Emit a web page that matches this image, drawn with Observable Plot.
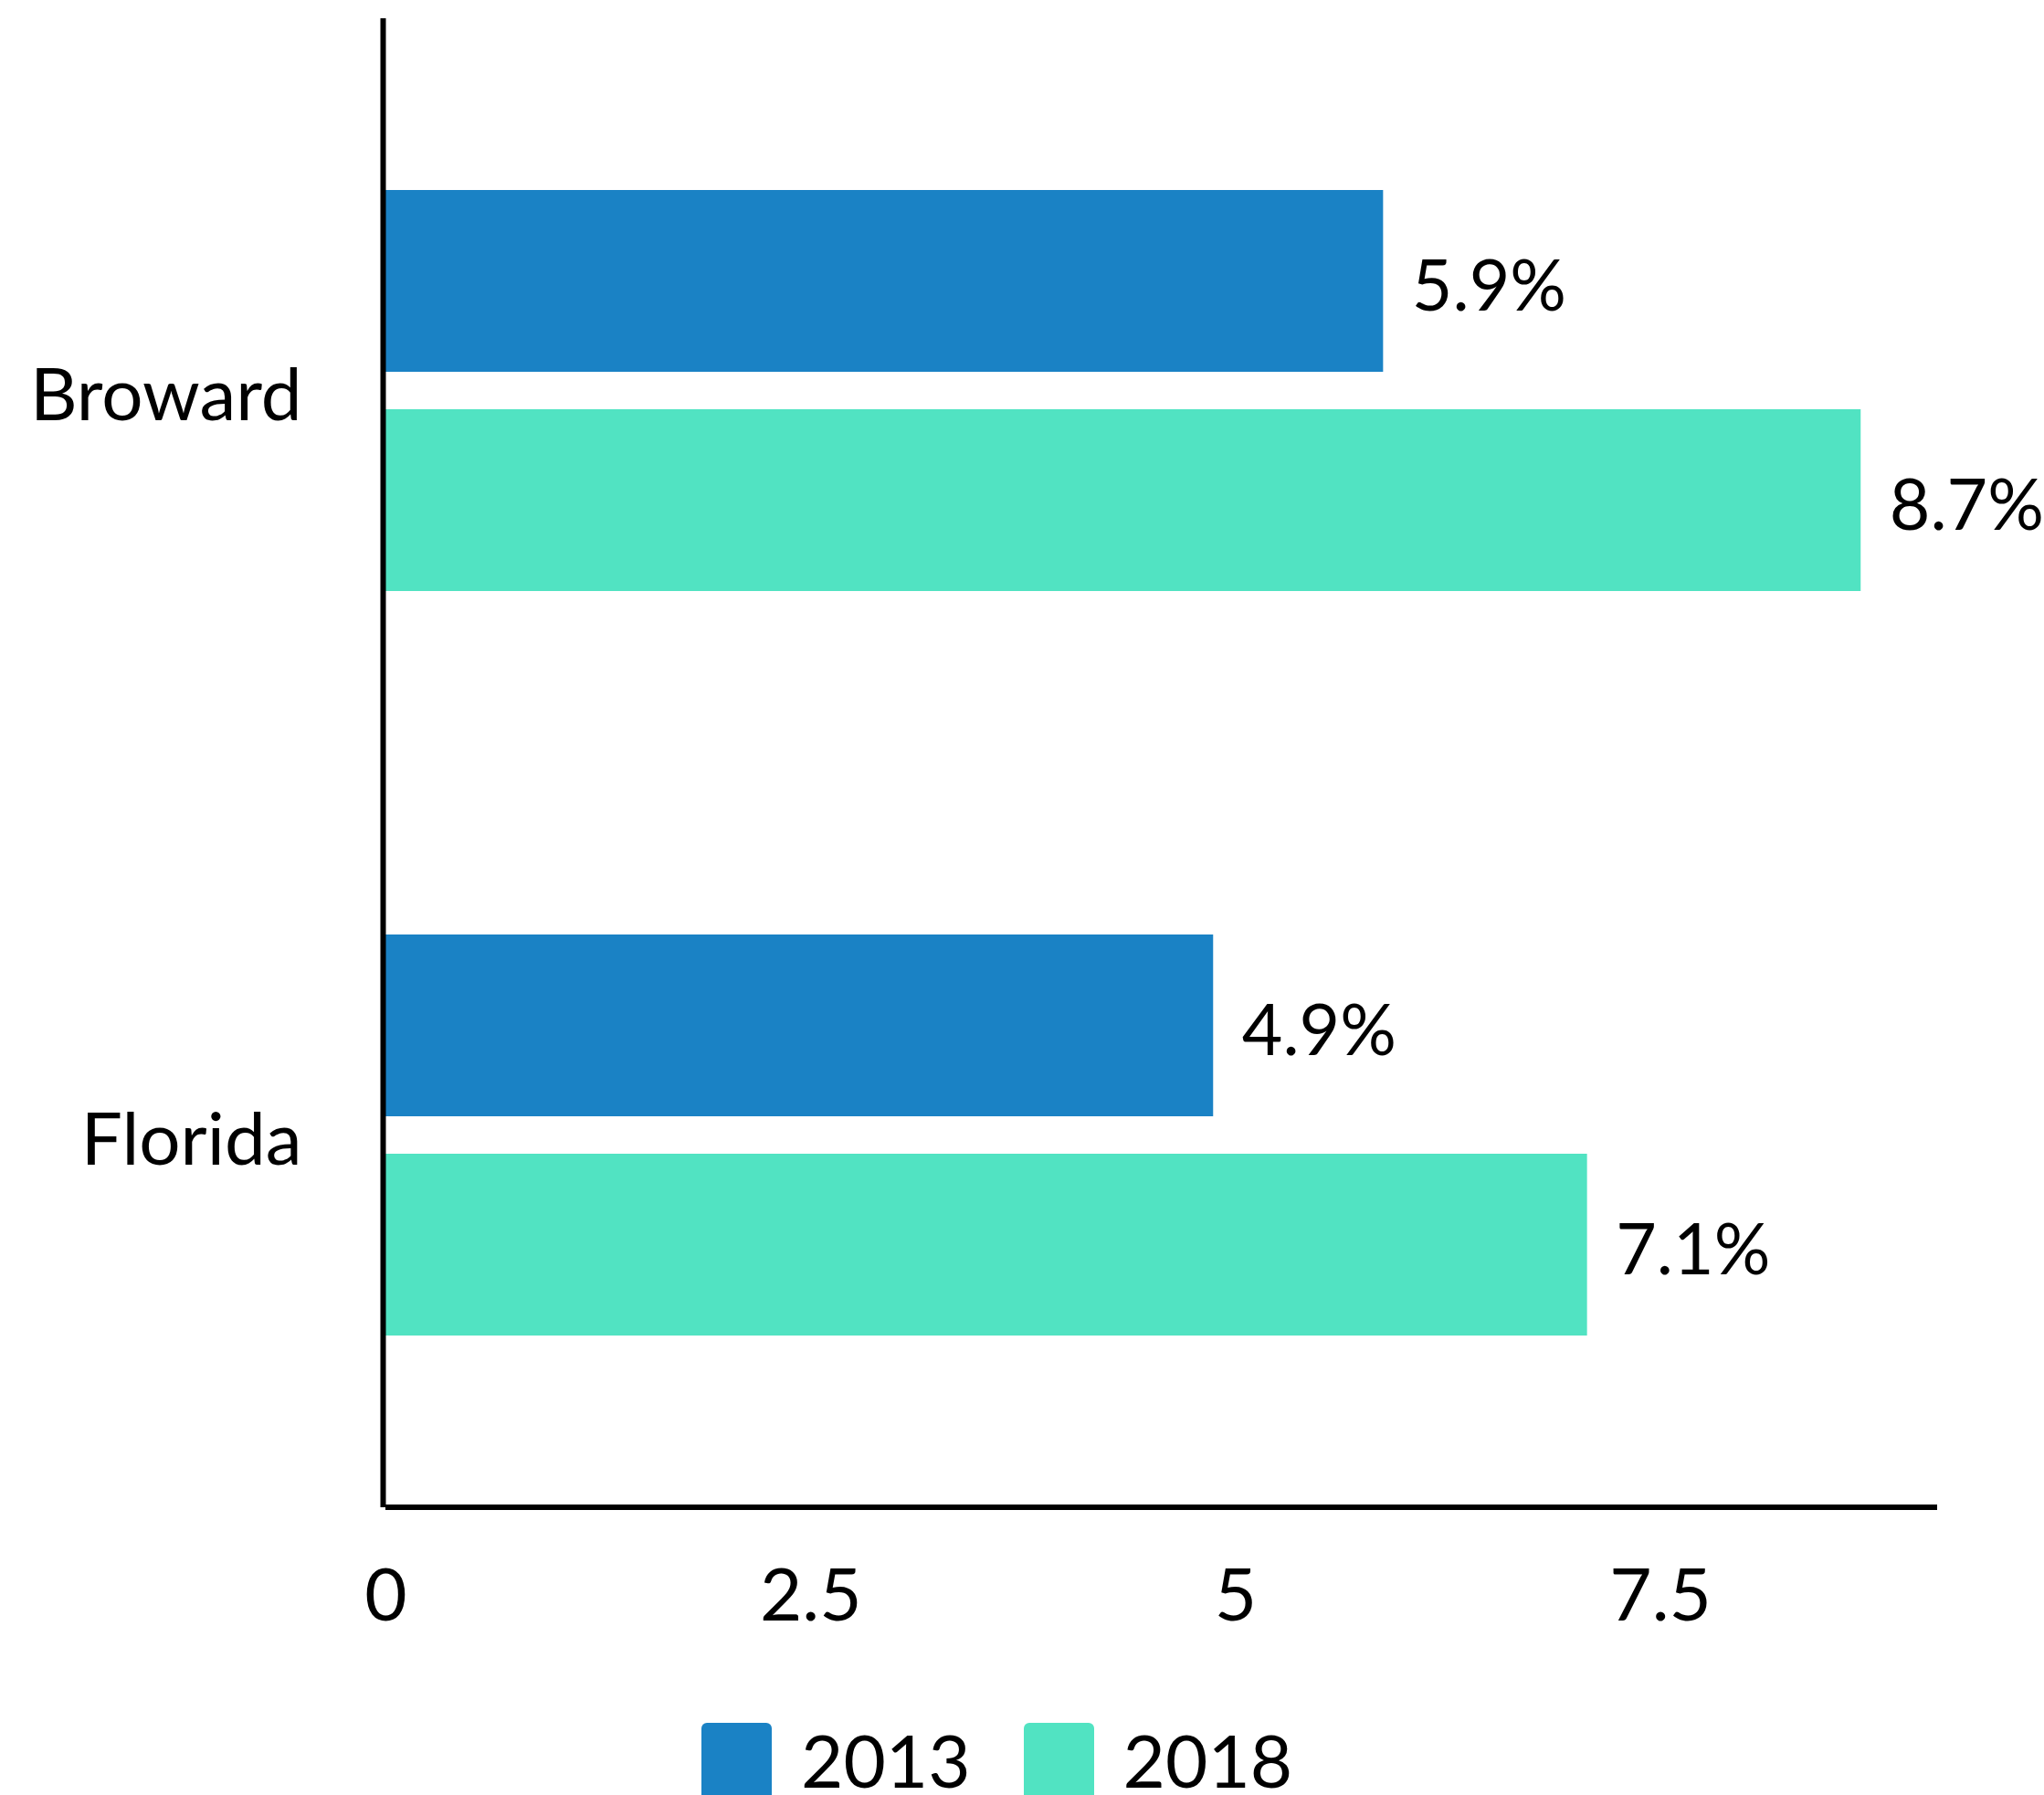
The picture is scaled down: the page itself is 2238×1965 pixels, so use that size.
<!DOCTYPE html>
<html>
<head>
<meta charset="utf-8">
<script src="https://cdn.jsdelivr.net/npm/d3@7"></script>
<script src="https://cdn.jsdelivr.net/npm/@observablehq/plot@0.6"></script>
<style>
  html, body { margin: 0; padding: 0; background: #fff; }
  body { width: 2238px; height: 1965px; overflow: hidden; font-family: Lato, sans-serif; }
  #legend { display: flex; align-items: flex-start; margin-top: 46px; margin-left: 768px; }
  .item { display: flex; align-items: flex-start; margin-right: 58px; }
  .sw { width: 77px; height: 90px; border-radius: 6px; }
  .lab { font-family: Lato, sans-serif; font-size: 80px; line-height: 60px; margin-top: 10px; margin-left: 32px; color: #000; }
</style>
</head>
<body>
<div id="chart"></div>
<div id="legend"></div>
<script>
const counties = ["Broward", "Florida"];
const years = ["2013", "2018"];
const values2013 = [5.87, 4.87];
const values2018 = [8.68, 7.07];
const xTicks = [0, 2.5, 5, 7.5];
const xTickLabels = ["0", "2.5", "5", "7.5"];
const xMax = 9.13;
const colors = ["#1a82c5", "#51e3c2"];

const data = [];
counties.forEach((c, i) => {
  data.push({county: c, year: years[0], value: values2013[i]});
  data.push({county: c, year: years[1], value: values2018[i]});
});

const chart = Plot.plot({
  width: 2238,
  height: 1840,
  marginTop: 20,
  marginBottom: 190,
  marginLeft: 422,
  marginRight: 117,
  style: {fontFamily: "Lato, sans-serif", fontSize: "80px", color: "#000", background: "#fff"},
  x: {domain: [0, xMax], axis: null},
  y: {domain: years, paddingInner: 0.17, paddingOuter: 0.78, axis: null},
  fy: {domain: counties, padding: 0, axis: null},
  color: {domain: years, range: colors},
  marks: [
    Plot.barX(data, {fy: "county", y: "year", x: "value", fill: "year"}),
    Plot.text(data, {
      fy: "county", y: "year", x: "value",
      text: d => d.value.toFixed(1) + "%",
      textAnchor: "start", dx: 31, dy: 7, fontSize: 77, fill: "#000"
    }),
    Plot.ruleX([0], {stroke: "#000", strokeWidth: 6, dx: -3}),
    Plot.axisFy({anchor: "left", tickSize: 0, tickPadding: 92, fontSize: 80, dy: 6, label: null}),
    Plot.axisX({
      ticks: xTicks,
      tickFormat: (d) => xTickLabels[xTicks.indexOf(d)],
      tickSize: 0, tickPadding: 67, fontSize: 80, label: null, lineAnchor: "top"
    })
  ]
});

// x axis baseline drawn from the plot's own scales
const xs = chart.scale("x");
const fys = chart.scale("fy");
const yBottom = fys.apply(counties[counties.length - 1]) + fys.bandwidth;
d3.select(chart).append("line")
  .attr("x1", xs.apply(0))
  .attr("x2", xs.apply(xMax))
  .attr("y1", yBottom)
  .attr("y2", yBottom)
  .attr("stroke", "#000")
  .attr("stroke-width", 6);

document.getElementById("chart").appendChild(chart);

const legend = document.getElementById("legend");
years.forEach((y, i) => {
  const item = document.createElement("div");
  item.className = "item";
  const sw = document.createElement("div");
  sw.className = "sw";
  sw.style.background = colors[i];
  const lab = document.createElement("div");
  lab.className = "lab";
  lab.textContent = y;
  item.appendChild(sw);
  item.appendChild(lab);
  legend.appendChild(item);
});
</script>
</body>
</html>
